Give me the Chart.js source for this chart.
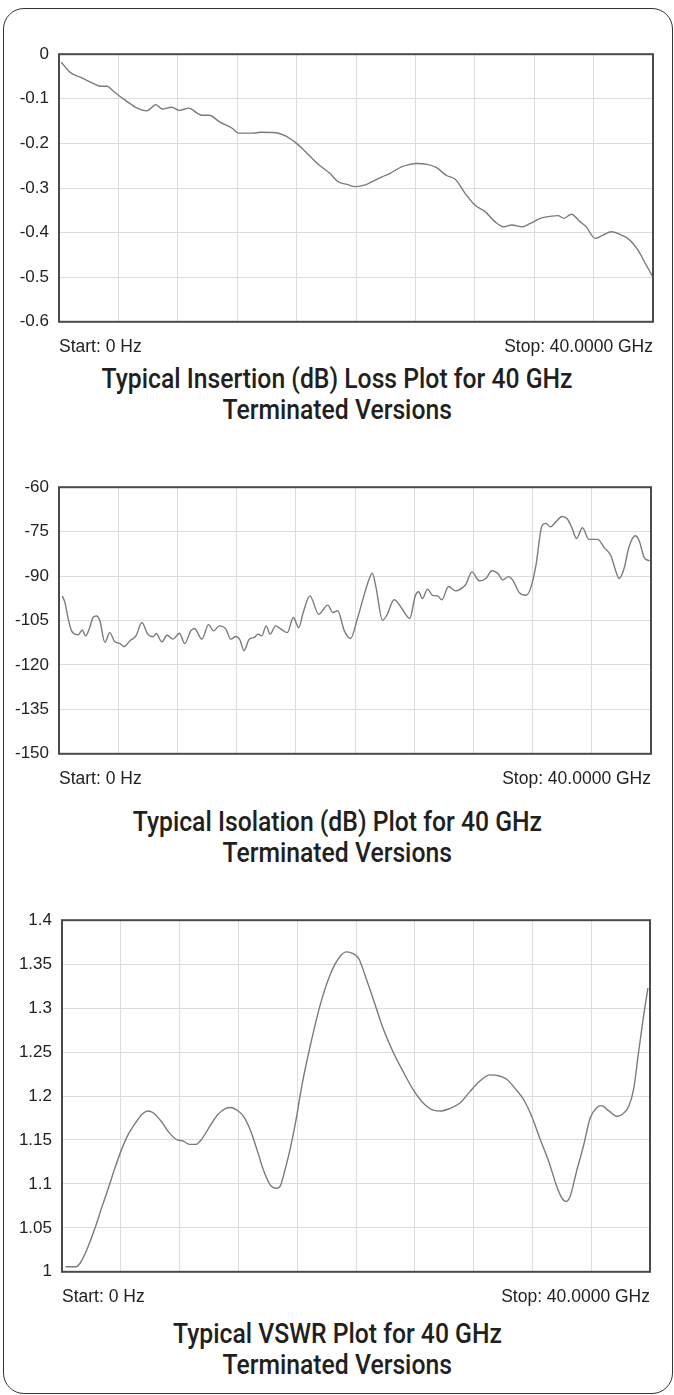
<!DOCTYPE html>
<html>
<head>
<meta charset="utf-8">
<script src="https://cdn.jsdelivr.net/npm/chart.js@4.4.1/dist/chart.umd.min.js"></script>
<style>
  html, body { margin:0; padding:0; background:#fff; width:674px; height:1395px; overflow:hidden; position:relative; }
  #frame { position:absolute; left:3px; top:8px; width:670px; height:1386px; border:1.5px solid #333; border-radius:21px; box-sizing:border-box; }
  .box { position:absolute; left:0; width:674px; }
  .box canvas { display:block; }
  .cap { position:absolute; left:0; width:674px; text-align:center; font-family:Roboto, "Noto Sans", sans-serif; font-weight:500; font-size:27px; line-height:31px; color:#231f20; white-space:nowrap; }
  .cap span { display:inline-block; transform-origin:center center; }
  .ss { position:absolute; font-family:"Liberation Sans", Arial, sans-serif; font-size:17.5px; line-height:20px; color:#222; white-space:nowrap; }
</style>
</head>
<body>
<div id="frame"></div>

<div class="box" id="b1" style="top:34px;height:308px"><canvas id="ch1" width="674" height="308"></canvas></div>
<div class="cap" style="top:364px"><span id="cref">Typical Insertion (dB) Loss Plot for 40 GHz</span></div>
<div class="cap" style="top:395px"><span>Terminated Versions</span></div>

<div class="box" id="b2" style="top:467px;height:307px"><canvas id="ch2" width="674" height="307"></canvas></div>
<div class="cap" style="top:807px"><span>Typical Isolation (dB) Plot for 40 GHz</span></div>
<div class="cap" style="top:838px"><span>Terminated Versions</span></div>

<div class="box" id="b3" style="top:900px;height:392px"><canvas id="ch3" width="674" height="392"></canvas></div>
<div class="cap" style="top:1319px"><span>Typical VSWR Plot for 40 GHz</span></div>
<div class="cap" style="top:1350px"><span>Terminated Versions</span></div>

<script>
// ---------- DATA ----------
const startLabel = "Start: 0 Hz";
const stopLabel = "Stop: 40.0000 GHz";

// Insertion loss (dB) vs frequency (GHz)
const ilFreq = [0.15,0.67,1.0,1.46,1.9,2.47,2.8,3.25,3.6,4.0,4.5,5.27,5.9,6.2,6.5,6.95,7.6,8.1,8.75,9.3,9.64,10.1,10.87,11.66,12.1,13.1,13.55,14.6,15.25,16.0,16.7,17.5,18.2,18.8,19.4,19.96,20.63,21.2,21.75,22.3,23.1,23.5,24.1,24.8,25.4,26.1,26.7,27.35,28.0,28.7,29.37,29.93,30.5,31.2,31.7,32.5,33.2,33.6,34.0,34.5,35.1,35.5,36.1,36.6,37.2,37.9,38.45,39.0,39.5,40.0];
const ilDb = [-0.018,-0.038,-0.046,-0.052,-0.059,-0.068,-0.072,-0.072,-0.081,-0.092,-0.104,-0.121,-0.127,-0.121,-0.113,-0.123,-0.119,-0.126,-0.121,-0.132,-0.137,-0.137,-0.153,-0.166,-0.177,-0.177,-0.175,-0.176,-0.183,-0.2,-0.222,-0.248,-0.266,-0.286,-0.292,-0.297,-0.293,-0.284,-0.275,-0.267,-0.252,-0.248,-0.245,-0.247,-0.254,-0.272,-0.281,-0.312,-0.338,-0.353,-0.376,-0.387,-0.383,-0.387,-0.380,-0.367,-0.363,-0.362,-0.368,-0.359,-0.376,-0.387,-0.413,-0.406,-0.398,-0.406,-0.417,-0.44,-0.47,-0.50];
const ilTicks = [-0.6,-0.5,-0.4,-0.3,-0.2,-0.1,0];
const ilTickLabels = ["-0.6","-0.5","-0.4","-0.3","-0.2","-0.1","0"];

// Isolation (dB)
const isoFreq = [0.22,0.4,0.63,0.85,1.08,1.3,1.57,1.8,2.04,2.3,2.53,2.76,3.1,3.43,3.77,4.1,4.4,4.78,5.2,5.6,6.0,6.35,6.57,6.95,7.3,7.7,8.14,8.5,8.9,9.15,9.66,10.1,10.45,10.83,11.28,11.6,11.95,12.22,12.5,12.85,13.2,13.45,13.7,14.0,14.26,14.64,15.0,15.43,15.83,16.2,16.5,16.95,17.55,18.16,18.5,18.83,19.28,19.7,20.15,20.6,20.95,21.17,21.4,21.86,22.13,22.65,23.2,23.7,24.07,24.3,24.56,24.9,25.24,25.58,25.87,26.32,26.8,27.27,27.5,27.9,28.4,28.84,29.25,29.63,30.0,30.37,30.69,31.1,31.55,31.88,32.22,32.63,32.9,33.2,33.57,34.0,34.36,34.65,34.97,35.37,35.8,36.4,36.84,37.3,37.58,37.85,38.2,38.5,38.93,39.2,39.54,39.9];
const isoDb = [-96.7,-98.9,-104.6,-108.5,-109.6,-109.8,-108.2,-110.2,-107.9,-104.0,-103.5,-105.1,-112.4,-109.1,-112.2,-112.7,-113.8,-111.9,-110.2,-105.7,-109.6,-110.5,-109.4,-112.2,-110.0,-111.3,-109.3,-112.8,-108.5,-107.7,-111.3,-106.4,-108.5,-106.8,-107.9,-111.3,-110.4,-111.5,-115.2,-111.3,-110.7,-109.6,-110.2,-106.8,-109.6,-106.8,-107.9,-109.1,-104.0,-107.4,-102.3,-96.7,-102.9,-99.8,-102.3,-101.7,-108.5,-111.1,-104.6,-96.7,-91.1,-89.0,-93.3,-104.9,-103.4,-98.0,-101.2,-104.3,-96.7,-95.3,-97.6,-94.4,-96.5,-96.7,-98.0,-93.5,-95.0,-93.9,-92.7,-88.6,-91.6,-90.8,-88.2,-89.0,-91.3,-90.2,-91.6,-95.6,-96.5,-93.9,-86.6,-73.1,-72.2,-73.4,-71.7,-69.9,-70.8,-73.6,-77.3,-73.7,-77.6,-77.6,-80.4,-83.2,-87.7,-90.8,-87.1,-80.4,-76.4,-78.1,-83.7,-84.9];
const isoTicks = [-150,-135,-120,-105,-90,-75,-60];
const isoTickLabels = ["-150","-135","-120","-105","-90","-75","-60"];

// VSWR
const vsFreq = [0.23,0.95,1.24,1.69,2.25,2.7,3.15,3.6,4.05,4.5,5.07,5.5,5.86,6.2,6.76,7.3,7.84,8.2,8.67,9.1,9.46,10.0,10.6,11.15,11.5,11.9,12.34,12.84,13.3,13.74,14.2,14.6,14.86,15.2,15.54,15.9,16.33,16.9,17.57,18.24,18.92,19.37,19.8,20.2,20.6,21.16,21.84,22.5,23.2,23.9,24.57,25.25,25.8,26.4,27.07,27.75,28.43,29.1,29.7,30.25,30.8,31.4,31.95,32.5,33.1,33.66,34.0,34.3,34.57,35.0,35.5,35.93,36.4,36.7,37.2,37.75,38.1,38.55,38.9,39.2,39.57,39.86];
const vsVal = [1.0057,1.0057,1.010,1.025,1.050,1.073,1.095,1.118,1.139,1.156,1.171,1.180,1.183,1.181,1.171,1.158,1.150,1.149,1.145,1.145,1.150,1.164,1.179,1.186,1.187,1.184,1.177,1.160,1.137,1.114,1.098,1.095,1.098,1.118,1.141,1.171,1.213,1.258,1.304,1.338,1.359,1.364,1.362,1.356,1.338,1.311,1.277,1.251,1.228,1.207,1.192,1.184,1.183,1.186,1.192,1.205,1.217,1.224,1.223,1.219,1.209,1.196,1.177,1.152,1.126,1.097,1.084,1.080,1.086,1.114,1.145,1.175,1.187,1.189,1.183,1.177,1.179,1.188,1.209,1.247,1.292,1.323];
const vsTicks = [1,1.05,1.1,1.15,1.2,1.25,1.3,1.35,1.4];
const vsTickLabels = ["1","1.05","1.1","1.15","1.2","1.25","1.3","1.35","1.4"];

const freqMin = 0, freqMax = 40, freqStep = 4;

// ---------- CHARTS ----------
const framePlugin = {
  id: 'plotFrame',
  afterDraw(chart) {
    const a = chart.chartArea, ctx = chart.ctx;
    ctx.save();
    ctx.strokeStyle = '#4a4a4a';
    ctx.lineWidth = 2;
    ctx.strokeRect(a.left, a.top, a.right - a.left, a.bottom - a.top);
    ctx.restore();
  }
};

function makeChart(canvasId, boxId, xs, ys, ticks, tickLabels, yWidth, padRight) {
  const box = document.getElementById(boxId);
  const chart = new Chart(document.getElementById(canvasId), {
    type: 'line',
    data: { datasets: [{
      data: xs.map((x, i) => ({ x: x, y: ys[i] })),
      borderColor: '#7b7b7b', borderWidth: 1.4, pointRadius: 0, fill: false,
      cubicInterpolationMode: 'monotone'
    }]},
    options: {
      responsive: false, animation: false, events: [],
      layout: { padding: { top: 20, bottom: 20, left: 0, right: padRight } },
      plugins: { legend: { display: false }, tooltip: { enabled: false } },
      scales: {
        x: {
          type: 'linear', min: freqMin, max: freqMax,
          ticks: { display: false, stepSize: freqStep },
          grid: { color: '#dcdcdc', lineWidth: 1, drawTicks: false },
          border: { display: false },
          afterFit(s) { s.height = 0; }
        },
        y: {
          type: 'linear', min: ticks[0], max: ticks[ticks.length - 1],
          afterBuildTicks(s) { s.ticks = ticks.map(v => ({ value: v })); },
          ticks: {
            callback: (v, i) => tickLabels[i],
            font: { family: '"Liberation Sans", Arial, sans-serif', size: 17 },
            color: '#222', padding: 10
          },
          grid: { color: '#dcdcdc', lineWidth: 1, drawTicks: false },
          border: { display: false },
          afterFit(s) { s.width = yWidth; }
        }
      }
    },
    plugins: [framePlugin]
  });
  const a = chart.chartArea;
  const top = box.offsetTop;
  const s1 = document.createElement('div');
  s1.className = 'ss'; s1.textContent = startLabel;
  s1.style.left = a.left + 'px'; s1.style.top = (top + a.bottom + 14) + 'px';
  const s2 = document.createElement('div');
  s2.className = 'ss'; s2.textContent = stopLabel;
  s2.style.right = (674 - a.right) + 'px'; s2.style.top = (top + a.bottom + 14) + 'px';
  document.body.appendChild(s1); document.body.appendChild(s2);
  return chart;
}

makeChart('ch1', 'b1', ilFreq, ilDb, ilTicks, ilTickLabels, 59, 21);
makeChart('ch2', 'b2', isoFreq, isoDb, isoTicks, isoTickLabels, 59, 23);
makeChart('ch3', 'b3', vsFreq, vsVal, vsTicks, vsTickLabels, 62, 24);

function fitCaptions() {
  const ref = document.getElementById('cref');
  document.querySelectorAll('.cap span').forEach(s => s.style.transform = 'none');
  const w = ref.getBoundingClientRect().width;
  const k = 471 / w;
  document.querySelectorAll('.cap span').forEach(s => s.style.transform = 'scaleX(' + k + ')');
}
fitCaptions();
if (document.fonts && document.fonts.ready) document.fonts.ready.then(fitCaptions);
</script>
</body>
</html>
